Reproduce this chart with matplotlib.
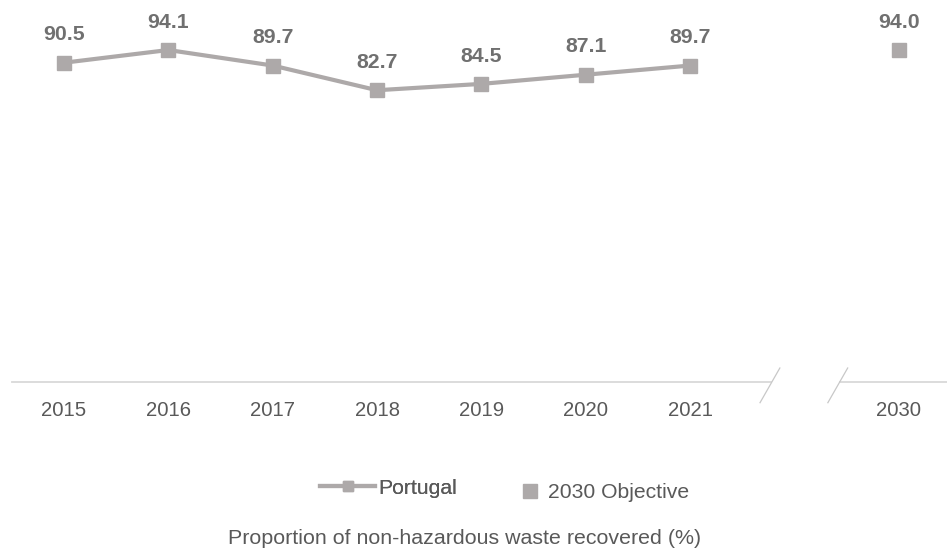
import matplotlib
matplotlib.use("Agg")
import matplotlib.pyplot as plt
from matplotlib.lines import Line2D
from matplotlib.transforms import blended_transform_factory

plt.rcParams['font.family'] = ['Liberation Sans', 'DejaVu Sans']

years = ['2015', '2016', '2017', '2018', '2019', '2020', '2021']
portugal = [90.5, 94.1, 89.7, 82.7, 84.5, 87.1, 89.7]
objective_year = '2030'
objective_value = 94.0
series_names = ['Portugal', '2030 Objective']
caption = 'Proportion of non-hazardous waste recovered (%)'

line_color = '#ADA9A9'
label_color = '#707070'
tick_color = '#595959'

W, H = 947, 551
fig = plt.figure(figsize=(W / 100, H / 100), dpi=100)
left_px, right_px = 11.8, 951.0
top_px, bottom_px = 29.2, 382.0
ax = fig.add_axes([left_px / W, 1 - bottom_px / H, (right_px - left_px) / W, (bottom_px - top_px) / H])
ax.set_xlim(-0.5, 8.5)
ax.set_ylim(0, 100)

xs = list(range(len(years)))
obj_x = len(years) + 1

ax.plot(xs, portugal, color=line_color, lw=3.0, marker='s', ms=9.6, solid_capstyle='butt', clip_on=False, zorder=3)
ax.plot([obj_x], [objective_value], ls='none', color=line_color, marker='s', ms=9.6, clip_on=False, zorder=3)

for x, v in zip(xs + [obj_x], portugal + [objective_value]):
    ax.annotate(f'{v:.1f}', (x, v), xytext=(0, 20), textcoords='offset points',
                ha='center', va='center', fontsize=15.3, fontweight='bold', color=label_color)

for s in ax.spines.values():
    s.set_visible(False)
ax.set_yticks([])
ax.set_xticks(xs + [obj_x])
ax.set_xticklabels(years + [objective_year], fontsize=14.6, color=tick_color)
ax.tick_params(axis='x', length=0, pad=14)

# broken axis line
trans = blended_transform_factory(ax.transData, ax.transAxes)
ax.plot([-0.5, 6.776], [0, 0], color='#D9D9D9', lw=1.3, transform=trans, clip_on=False)
ax.plot([7.44, 8.5], [0, 0], color='#D9D9D9', lw=1.3, transform=trans, clip_on=False)
for x0, x1 in [(6.67, 6.86), (7.32, 7.51)]:
    ax.plot([x0, x1], [-20.7 / 352.8, 14 / 352.8], color='#C8C8C8', lw=0.9, transform=trans, clip_on=False)

# legends
fs_leg = 15.2
px_per_fs = fs_leg * 100 / 72
h1 = Line2D([], [], color=line_color, lw=3.0, marker='s', ms=7)
h2 = Line2D([], [], color=line_color, ls='none', marker='s', ms=10)
leg1 = fig.legend([h1], [series_names[0]], loc='center left', bbox_to_anchor=(320 / W, 1 - 488 / H),
                  frameon=False, fontsize=fs_leg, handlelength=55 / px_per_fs, handletextpad=3 / px_per_fs,
                  labelcolor=tick_color, borderpad=0, borderaxespad=0)
leg2 = fig.legend([h2], [series_names[1]], loc='center left', bbox_to_anchor=(522 / W, 1 - 493 / H),
                  frameon=False, fontsize=fs_leg, handlelength=16 / px_per_fs, handletextpad=10 / px_per_fs,
                  labelcolor=tick_color, borderpad=0, borderaxespad=0)
fig.add_artist(leg1)

fig.text(465 / W, 1 - 538 / H, caption, ha='center', va='center', fontsize=15.4, color=tick_color)

fig.savefig('out.png', dpi=100)
